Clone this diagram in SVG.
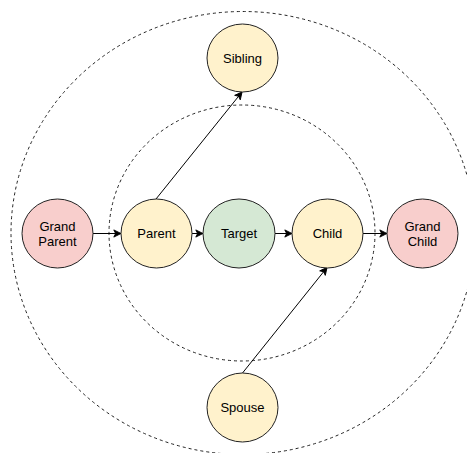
<svg xmlns="http://www.w3.org/2000/svg" width="467" height="453" viewBox="0 0 467 453">
  <style>
    .ring { fill: none; stroke: #222; stroke-width: 1; stroke-dasharray: 3 3; }
    .node { stroke: #222; stroke-width: 1; }
    .yellow { fill: #fff2cc; }
    .red { fill: #f8cecc; }
    .green { fill: #d5e8d4; }
    .label { font-family: "Liberation Sans", Arial, sans-serif; font-size: 13px; fill: #000; text-anchor: middle; }
    .edge { fill: none; stroke: #000; stroke-width: 1; marker-end: url(#arrow); }
  </style>
  <defs>
    <marker id="arrow" viewBox="0 0 10 10" refX="9" refY="5" markerWidth="9" markerHeight="9" markerUnits="userSpaceOnUse" orient="auto">
      <path d="M1,1 L9,5 L1,9 L3,5 Z" fill="#000" stroke="#000" stroke-width="1" stroke-linejoin="miter"/>
    </marker>
  </defs>

  <rect width="467" height="453" fill="#fff"/>

  <!-- distance rings -->
  <g id="rings">
    <ellipse class="ring" cx="243" cy="233" rx="232" ry="221.5"/>
    <ellipse class="ring" cx="242" cy="233" rx="133" ry="128"/>
  </g>

  <!-- connectors -->
  <g id="connectors">
    <line class="edge" x1="93" y1="233.5" x2="121" y2="233.5"/>
    <line class="edge" x1="192" y1="233.5" x2="203" y2="233.5"/>
    <line class="edge" x1="275" y1="233.5" x2="292" y2="233.5"/>
    <line class="edge" x1="363" y1="233.5" x2="387" y2="233.5"/>
    <line class="edge" x1="156" y1="199" x2="242" y2="92"/>
    <line class="edge" x1="242.5" y1="373" x2="327" y2="267.5"/>
  </g>

  <g id="sibling">
    <ellipse class="node yellow" cx="242.5" cy="58" rx="35.5" ry="34"/>
    <text class="label" x="242.5" y="62.5">Sibling</text>
  </g>

  <g id="grand-parent">
    <ellipse class="node red" cx="57.5" cy="233.5" rx="35.5" ry="34.5"/>
    <text class="label" x="57.5" y="231">Grand</text>
    <text class="label" x="57.5" y="246">Parent</text>
  </g>

  <g id="parent">
    <ellipse class="node yellow" cx="156.5" cy="233.5" rx="35.5" ry="34.5"/>
    <text class="label" x="156.5" y="238">Parent</text>
  </g>

  <g id="target">
    <ellipse class="node green" cx="239" cy="233.5" rx="36" ry="34.5"/>
    <text class="label" x="239" y="238">Target</text>
  </g>

  <g id="child">
    <ellipse class="node yellow" cx="327.5" cy="233.5" rx="35.5" ry="34.5"/>
    <text class="label" x="327.5" y="238">Child</text>
  </g>

  <g id="grand-child">
    <ellipse class="node red" cx="422.5" cy="233.5" rx="35.5" ry="34.5"/>
    <text class="label" x="422.5" y="231">Grand</text>
    <text class="label" x="422.5" y="246">Child</text>
  </g>

  <g id="spouse">
    <ellipse class="node yellow" cx="242.5" cy="407.5" rx="35.5" ry="34.5"/>
    <text class="label" x="242.5" y="412">Spouse</text>
  </g>
</svg>
